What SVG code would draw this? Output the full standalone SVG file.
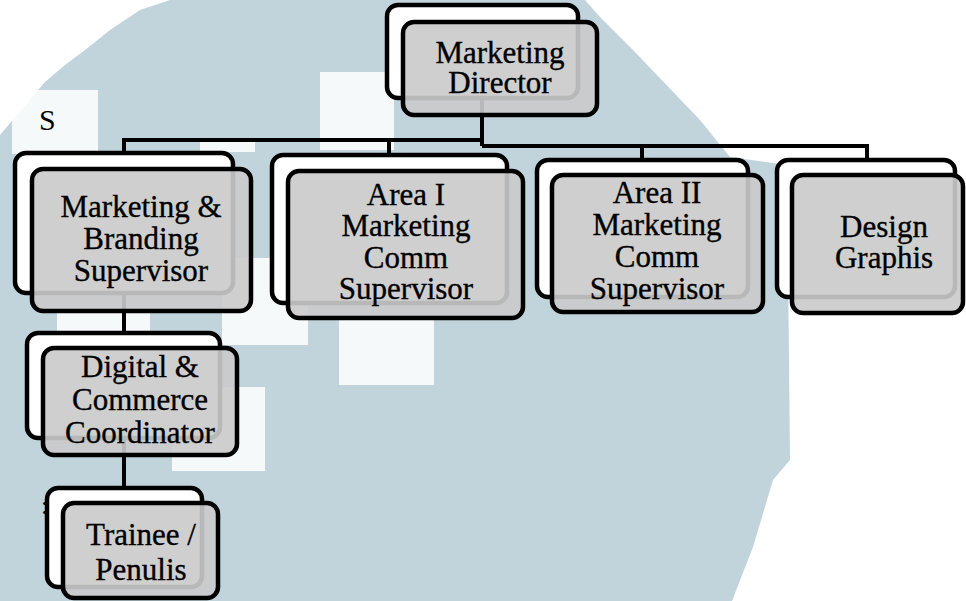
<svg xmlns="http://www.w3.org/2000/svg" width="966" height="601" viewBox="0 0 966 601">
<style>
.wm{fill:#c1d4db}
.wh{fill:#ffffff;opacity:0.85}
.back{fill:#ffffff;stroke:#000;stroke-width:4.5}
.front{fill:#cacaca;fill-opacity:0.91;stroke:#000;stroke-width:4.5}
.lbl{font-size:31px;fill:#000;stroke:#000;stroke-width:0.35;text-anchor:middle}
.conn{fill:none;stroke:#000;stroke-width:4}
</style>
<rect width="966" height="601" fill="#ffffff"/>
<g id="watermark">
<polygon class="wm" points="170,0 585,0 600,17 633,50 700,120 730,157 787,165 790,460 773,480 753,547 732,601 0,601 0,135 45,82 65,65 85,50 110,30 140,10"/>
<rect class="wh" x="12" y="90" width="86" height="64"/>
<rect class="wh" x="320" y="72" width="74" height="78"/>
<rect class="wh" x="200" y="140" width="55" height="12"/>
<rect class="wh" x="222" y="258" width="86" height="87"/>
<rect class="wh" x="57" y="311" width="93" height="22"/>
<rect class="wh" x="339" y="318" width="95" height="67"/>
<rect class="wh" x="172" y="387" width="93" height="84"/>
</g>
<g font-family="Liberation Serif, Times New Roman, DejaVu Serif, serif">
<text x="39" y="130" font-size="30" fill="#000">S</text>
<text x="41" y="514" font-size="26" fill="#000">:</text>
</g>
<g id="connectors">
<path class="conn" d="M482,98 V146"/>
<path class="conn" d="M124,153 V140 H482"/>
<path class="conn" d="M389,155 V140"/>
<path class="conn" d="M482,146 H867 V160"/>
<path class="conn" d="M642,146 V160"/>
<path class="conn" d="M124,293 V333"/>
<path class="conn" d="M124,438 V488"/>
</g>
<g id="n-director" font-family="Liberation Serif, Times New Roman, DejaVu Serif, serif">
<rect class="back" x="387" y="5" width="191" height="93" rx="11"/>
<rect class="front" x="403" y="22" width="194" height="93" rx="11"/>
<text class="lbl" x="500" y="63">Marketing</text>
<text class="lbl" x="500" y="93">Director</text>
</g>
<g id="n-branding" font-family="Liberation Serif, Times New Roman, DejaVu Serif, serif">
<rect class="back" x="15" y="153" width="218" height="140" rx="11"/>
<rect class="front" x="32" y="169" width="219" height="142" rx="11"/>
<text class="lbl" x="141" y="217">Marketing &amp;</text>
<text class="lbl" x="141" y="249">Branding</text>
<text class="lbl" x="141" y="281">Supervisor</text>
</g>
<g id="n-area1" font-family="Liberation Serif, Times New Roman, DejaVu Serif, serif">
<rect class="back" x="272" y="155" width="235" height="148" rx="11"/>
<rect class="front" x="288" y="171" width="235" height="147" rx="11"/>
<text class="lbl" x="406" y="205">Area I</text>
<text class="lbl" x="406" y="236">Marketing</text>
<text class="lbl" x="406" y="268">Comm</text>
<text class="lbl" x="406" y="299">Supervisor</text>
</g>
<g id="n-area2" font-family="Liberation Serif, Times New Roman, DejaVu Serif, serif">
<rect class="back" x="537" y="160" width="211" height="137" rx="11"/>
<rect class="front" x="552" y="175" width="211" height="137" rx="11"/>
<text class="lbl" x="657" y="203">Area II</text>
<text class="lbl" x="657" y="235">Marketing</text>
<text class="lbl" x="657" y="267">Comm</text>
<text class="lbl" x="657" y="299">Supervisor</text>
</g>
<g id="n-design" font-family="Liberation Serif, Times New Roman, DejaVu Serif, serif">
<rect class="back" x="777" y="160" width="178" height="137" rx="11"/>
<rect class="front" x="792" y="175" width="171" height="138" rx="11"/>
<text class="lbl" x="884" y="237">Design</text>
<text class="lbl" x="884" y="268">Graphis</text>
</g>
<g id="n-digital" font-family="Liberation Serif, Times New Roman, DejaVu Serif, serif">
<rect class="back" x="27" y="333" width="193" height="105" rx="11"/>
<rect class="front" x="43" y="348" width="194" height="107" rx="11"/>
<text class="lbl" x="140" y="377">Digital &amp;</text>
<text class="lbl" x="140" y="410">Commerce</text>
<text class="lbl" x="140" y="443">Coordinator</text>
</g>
<g id="n-trainee" font-family="Liberation Serif, Times New Roman, DejaVu Serif, serif">
<rect class="back" x="47" y="488" width="155" height="99" rx="11"/>
<rect class="front" x="63" y="503" width="155" height="95" rx="11"/>
<text class="lbl" x="141" y="545" font-size="32">Trainee /</text>
<text class="lbl" x="141" y="580" font-size="32">Penulis</text>
</g>
</svg>
